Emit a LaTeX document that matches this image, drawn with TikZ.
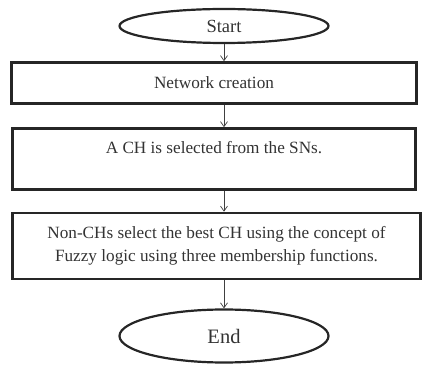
\documentclass[tikz,border=0pt]{standalone}
\usepackage{fontspec}
\setmainfont{Liberation Serif}
\usetikzlibrary{shapes.geometric,arrows.meta}
\begin{document}
\begin{tikzpicture}[x=1pt,y=1pt,
  every node/.style={font=\fontsize{17.2}{23}\selectfont, text=black!80},
  term/.style={ellipse, draw=black!85, line width=2.2pt, inner sep=0pt},
  procbox/.style={rectangle, draw=black!85, line width=2.6pt, inner sep=0pt, align=center},
  flow/.style={draw=black!75, line width=0.7pt, -{Straight Barb[length=5pt,width=7pt]}}]
\useasboundingbox (0,0) rectangle (423,-371);
\node[term, minimum width=209, minimum height=34, font=\fontsize{18.5}{22}\selectfont] (start) at (224,-26) {Start};
\node[procbox, minimum width=405, minimum height=41] (b1) at (214,-83) {Network creation};
\node[procbox, minimum width=403, minimum height=61] (b2) at (214,-159) {A CH is selected from the SNs.\\ \mbox{}};
\node[procbox, minimum width=408, minimum height=66] (b3) at (216.5,-246) {Non-CHs select the best CH using the concept of\\ Fuzzy logic using three membership functions.};
\node[term, minimum width=209, minimum height=53, font=\fontsize{20.5}{24}\selectfont] (end) at (224,-336) {End};
\draw[flow] (start.south) -- (start.south |- b1.north);
\draw[flow] (b1.south -| start) -- (start |- b2.north);
\draw[flow] (b2.south -| start) -- (start |- b3.north);
\draw[flow] (b3.south -| start) -- (end.north);
\end{tikzpicture}
\end{document}
